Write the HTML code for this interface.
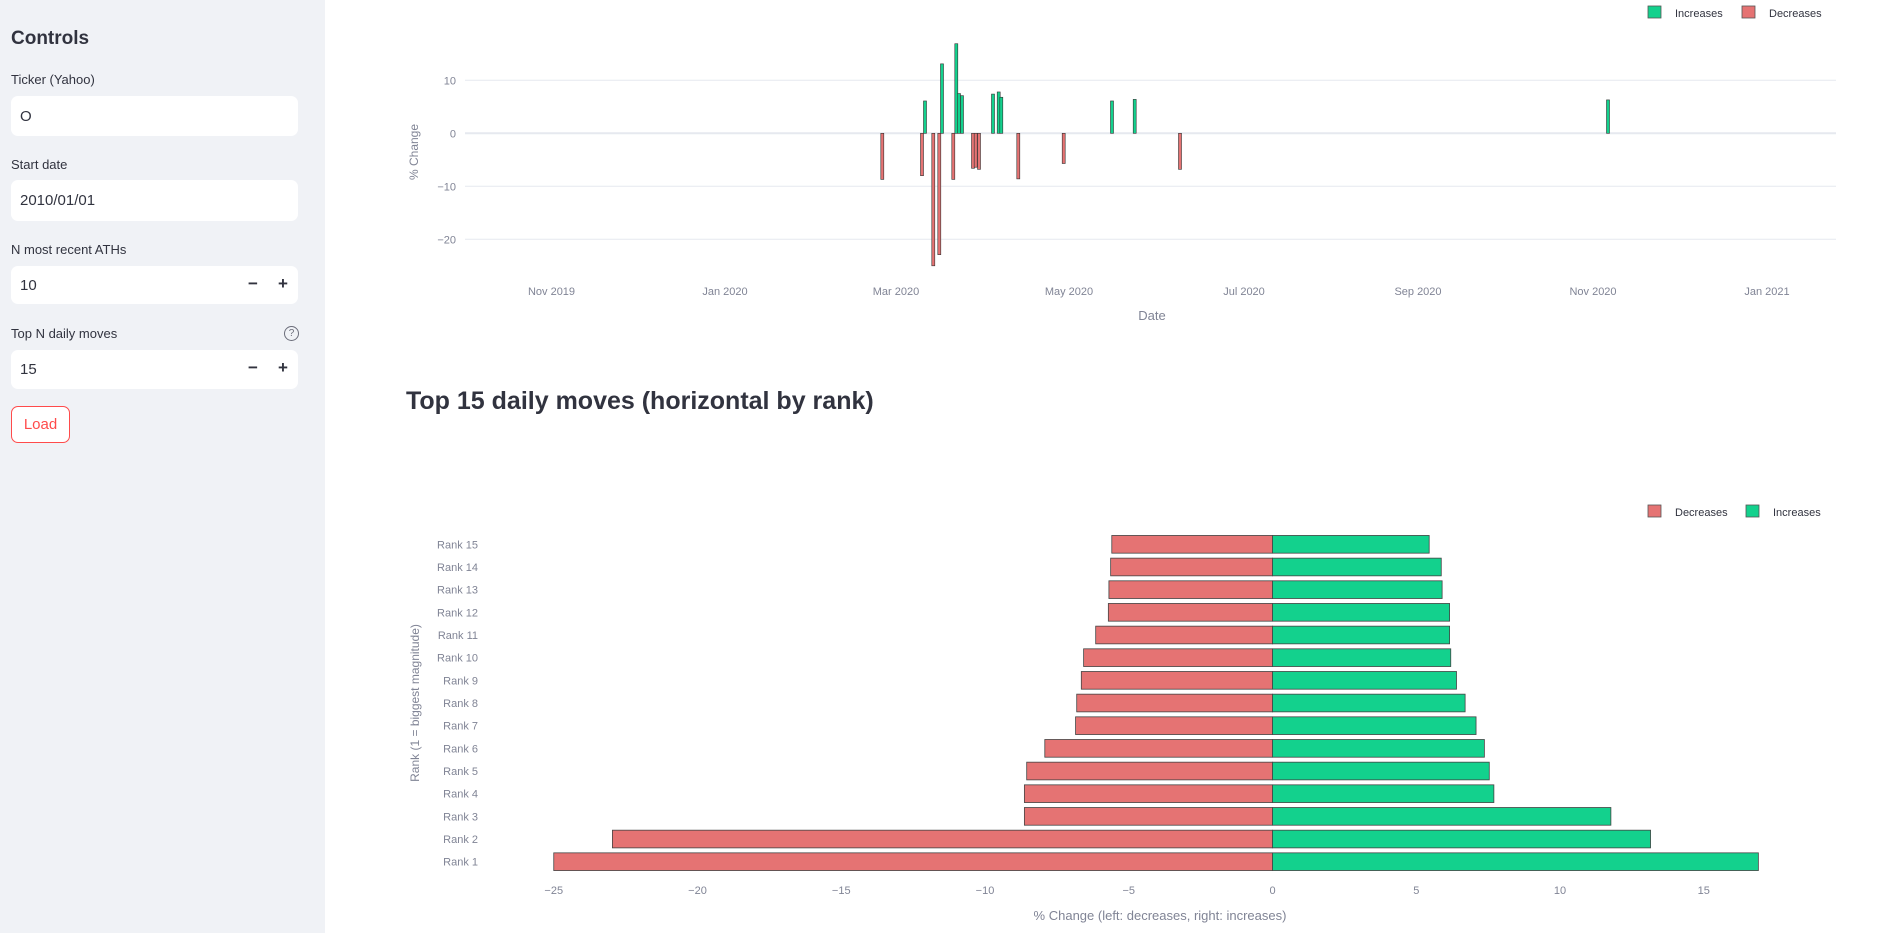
<!DOCTYPE html>
<html><head><meta charset="utf-8">
<style>
html,body{margin:0;padding:0;width:1891px;height:933px;overflow:hidden;background:#fff;font-family:"Liberation Sans",sans-serif;}
#side{position:absolute;left:0;top:0;width:325px;height:933px;background:#f0f2f6;color:#31333f;}
.lbl{position:absolute;left:11px;font-size:13px;color:#31333f;}
.inp{position:absolute;left:11px;width:287px;background:#fff;border-radius:7px;font-size:15px;box-sizing:border-box;padding-left:9px;display:flex;align-items:center;color:#31333f;}
.pm{position:absolute;font-size:17px;font-weight:bold;color:#31333f;}
svg text{font-family:"Liberation Sans",sans-serif;}
</style></head><body>
<div id="side">
  <div style="position:absolute;left:11px;top:28px;font-size:19px;font-weight:bold;">Controls</div>
  <div class="lbl" style="top:72px">Ticker (Yahoo)</div>
  <div class="inp" style="top:96px;height:40px">O</div>
  <div class="lbl" style="top:157px">Start date</div>
  <div class="inp" style="top:180px;height:41px">2010/01/01</div>
  <div class="lbl" style="top:242px">N most recent ATHs</div>
  <div class="inp" style="top:266px;height:38px">10<span class="pm" style="left:237px;top:8px">−</span><span class="pm" style="left:267px;top:8px">+</span></div>
  <div class="lbl" style="top:326px">Top N daily moves</div>
  <div style="position:absolute;left:284px;top:326px;width:13px;height:13px;border:1.3px solid #6b6d7a;border-radius:50%;font-size:10px;text-align:center;line-height:13px;color:#6b6d7a;">?</div>
  <div class="inp" style="top:350px;height:39px">15<span class="pm" style="left:237px;top:8px">−</span><span class="pm" style="left:267px;top:8px">+</span></div>
  <div style="position:absolute;left:11px;top:406px;width:59px;height:37px;box-sizing:border-box;border:1px solid #ff4b4b;border-radius:7px;background:#fff;color:#ff4b4b;font-size:15px;text-align:center;line-height:35px;">Load</div>
</div>
<div style="position:absolute;left:406px;top:387px;font-size:25px;font-weight:bold;color:#31333f;">Top 15 daily moves (horizontal by rank)</div>
<svg width="1891" height="933" style="position:absolute;left:0;top:0" id="s">
<g id="topg"></g><g id="bot"></g>
</svg>
<script>
(function(){
const NS="http://www.w3.org/2000/svg";
function el(p,t,a,txt){const e=document.createElementNS(NS,t);for(const k in a)e.setAttribute(k,a[k]);if(txt!==undefined)e.textContent=txt;p.appendChild(e);return e;}
const G="#13d18d",R="#e57373",TC="#808495";
const tg=document.getElementById('topg');
const y0=133.3,u=5.3;
[[10,'10'],[-10,'−10'],[-20,'−20']].forEach(([v,l])=>{const y=y0-v*u;el(tg,'line',{x1:465,x2:1836,y1:y,y2:y,stroke:'#e6e9ef','stroke-width':1});el(tg,'text',{x:456,y:y+4,'text-anchor':'end','font-size':11,fill:TC},l);});
el(tg,'text',{x:456,y:y0+4,'text-anchor':'end','font-size':11,fill:TC},'0');
el(tg,'text',{x:0,y:0,'font-size':12,fill:TC,'text-anchor':'middle',transform:'translate(418,152) rotate(-90)'},'% Change');
[['Nov 2019',551.5],['Jan 2020',725],['Mar 2020',896],['May 2020',1069],['Jul 2020',1244],['Sep 2020',1418],['Nov 2020',1593],['Jan 2021',1767]].forEach(([l,x])=>el(tg,'text',{x:x,y:295,'text-anchor':'middle','font-size':11,fill:TC},l));
el(tg,'text',{x:1152,y:320,'text-anchor':'middle','font-size':13,fill:TC},'Date');
el(tg,'line',{x1:465,x2:1836,y1:y0,y2:y0,stroke:'#e6e9ef','stroke-width':2});
const tb=[[882.3,-8.7],[922,-8],[925,6.1],[933.3,-25],[939.3,-22.9],[942,13.1],[953.3,-8.7],[956.3,16.9],[959,7.5],[962,7.1],[973,-6.6],[975.7,-6.4],[979,-6.8],[993,7.4],[998.7,7.8],[1001.3,6.8],[1018.3,-8.6],[1063.7,-5.7],[1112,6.1],[1134.7,6.4],[1180,-6.8],[1608,6.3]];
tb.forEach(([x,v])=>{const y=v>0?y0-v*u:y0;el(tg,'rect',{x:x-1.5,y:y,width:3,height:Math.abs(v)*u,fill:v>0?G:R,stroke:'#333',"stroke-width":0.6});});
el(tg,'rect',{x:1648,y:6,width:13,height:12,fill:G,stroke:'#555','stroke-width':0.8});
el(tg,'text',{x:1675,y:17,'font-size':11,fill:'#31333f'},'Increases');
el(tg,'rect',{x:1742,y:6,width:13,height:12,fill:R,stroke:'#555','stroke-width':0.8});
el(tg,'text',{x:1769,y:17,'font-size':11,fill:'#31333f'},'Decreases');
const b=document.getElementById('bot');const z=1272.5,k=28.75;
const dec=[-25,-22.96,-8.63,-8.63,-8.55,-7.92,-6.85,-6.81,-6.65,-6.57,-6.15,-5.71,-5.69,-5.63,-5.59];
const inc=[16.9,13.15,11.77,7.7,7.54,7.37,7.08,6.7,6.4,6.2,6.16,6.16,5.9,5.87,5.45];
for(let i=0;i<15;i++){const cy=861.7-i*22.67;
 el(b,'rect',{x:z+dec[i]*k,y:cy-8.85,width:-dec[i]*k,height:17.7,fill:R,stroke:'#444','stroke-width':0.8});
 el(b,'rect',{x:z,y:cy-8.85,width:inc[i]*k,height:17.7,fill:G,stroke:'#444','stroke-width':0.8});
 el(b,'text',{x:478,y:cy+4,'text-anchor':'end','font-size':11,fill:TC},'Rank '+(i+1));}
[-25,-20,-15,-10,-5,0,5,10,15].forEach(v=>el(b,'text',{x:z+v*k,y:894,'text-anchor':'middle','font-size':11,fill:TC},v<0?'−'+(-v):''+v));
el(b,'text',{x:1160,y:920,'text-anchor':'middle','font-size':13,fill:TC},'% Change (left: decreases, right: increases)');
el(b,'text',{x:0,y:0,'font-size':12,fill:TC,'text-anchor':'middle',transform:'translate(419,703) rotate(-90)'},'Rank (1 = biggest magnitude)');
el(b,'rect',{x:1648,y:505,width:13,height:12,fill:R,stroke:'#555','stroke-width':0.8});
el(b,'text',{x:1675,y:516,'font-size':11,fill:'#31333f'},'Decreases');
el(b,'rect',{x:1746,y:505,width:13,height:12,fill:G,stroke:'#555','stroke-width':0.8});
el(b,'text',{x:1773,y:516,'font-size':11,fill:'#31333f'},'Increases');
})();
</script>
</body></html>
